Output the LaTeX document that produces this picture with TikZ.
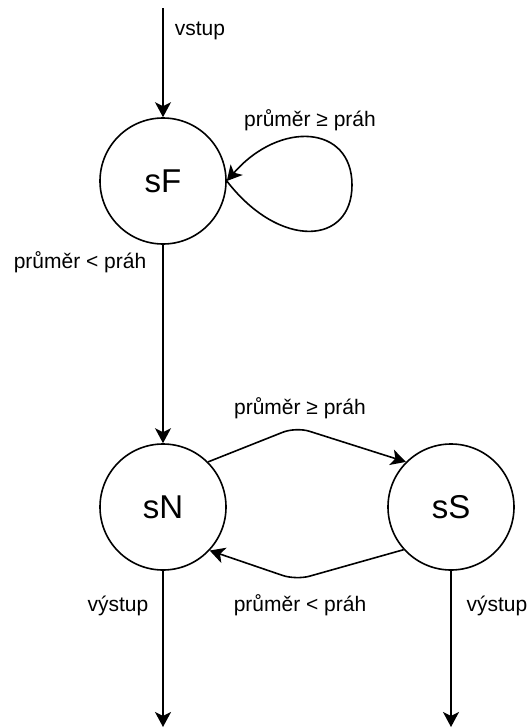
\documentclass[tikz,border=0pt]{standalone}
\usepackage{fontspec}
\setmainfont{Liberation Sans}
\usetikzlibrary{arrows.meta}
\begin{document}
\begin{tikzpicture}[x=1pt,y=-1pt,
  state/.style={circle,draw,line width=1.6pt,minimum size=126pt,inner sep=0pt,font=\fontsize{33}{36}\selectfont},
  lbl/.style={anchor=base,inner sep=0pt,font=\fontsize{21}{24}\selectfont},
  conn/.style={line width=1.6pt,-{Stealth[length=15pt,width=16pt,inset=4pt]}},
  ]
\useasboundingbox (0,0) rectangle (529,728);
\node[state] (sF) at (163,181) {sF};
\node[state] (sN) at (163,507) {sN};
\node[state] (sS) at (451,507) {sS};
\coordinate (in) at (163,8);
\coordinate (outN) at (163,727);
\coordinate (outS) at (451,727);
\coordinate (topmid) at (296,427);
\coordinate (botmid) at (296,580);
% connectors
\draw[conn] (in) -- (sF);
\draw[conn] (sF.east) .. controls (280,250) and (352,245) .. (352,185)
   .. controls (352,125) and (280,120) .. (sF.east);
\draw[conn] (sF) -- (sN);
\draw[conn,rounded corners=14pt] (sN.45) -- (topmid) -- (sS.135);
\draw[conn,rounded corners=14pt] (sS.222) -- (botmid) -- (sN.317);
\draw[conn] (sN) -- (outN);
\draw[conn] (sS) -- (outS);
% labels
\node[lbl] (l1) at (200,35) {vstup};
\node[lbl] (l2) at (310,126) {průměr ≥ práh};
\node[lbl] (l3) at (80,268) {průměr < práh};
\node[lbl] (l4) at (300,414) {průměr ≥ práh};
\node[lbl] (l5) at (300,611) {průměr < práh};
\node[lbl] (l6) at (118,611) {výstup};
\node[lbl] (l7) at (497,611) {výstup};
\end{tikzpicture}
\end{document}
